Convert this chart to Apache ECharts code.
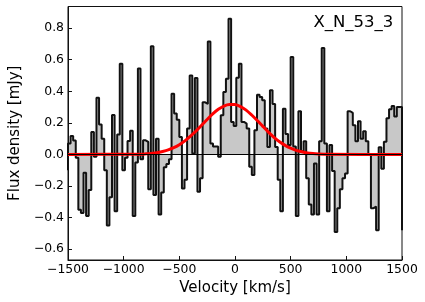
<!DOCTYPE html>
<html><head><meta charset="utf-8">
<script src="https://cdn.jsdelivr.net/npm/echarts@6/dist/echarts.min.js"></script>
<style>html,body{margin:0;padding:0;background:#fff}#c{width:425px;height:302px}</style>
</head><body><div id="c"></div>
<script>
// Spectrum: 129 channels spanning -1500 .. +1500 km/s
const velocityStart = -1500;
const velocityEnd = 1500;
const flux = [
  0.07, 0.117, 0.088, -0.02, -0.35, -0.37, -0.115, -0.39, -0.225, 0.143,
  -0.015, 0.36, 0.19, 0.1, -0.1, -0.45, -0.27, 0.25, -0.36, 0.126,
  0.575, -0.1, -0.02, 0.086, 0.15, -0.39, -0.05, 0.545, -0.03, 0.09,
  0.08, -0.22, 0.686, -0.257, 0.1, -0.38, -0.24, -0.08, -0.06, -0.03,
  0.385, 0.26, 0.22, 0.11, -0.215, -0.16, 0.164, 0.5, 0.006, 0.484,
  -0.236, -0.15, 0.33, 0.32, 0.716, 0.07, 0.05, 0.05, -0.015, 0.248,
  0.396, 0.48, 0.86, 0.206, 0.18, 0.486, 0.575, 0.206, 0.196, 0.164,
  -0.078, -0.13, 0.154, 0.379, 0.364, 0.343, 0.164, 0.048, 0.406, 0.32,
  0.048, -0.16, -0.36, 0.29, 0.13, 0.06, 0.617, 0.05, -0.39, 0.274,
  0.02, 0.084, -0.15, -0.316, -0.38, -0.057, -0.38, 0.084, 0.674, 0.07,
  -0.36, 0.06, -0.105, -0.49, -0.34, -0.22, -0.15, -0.12, 0.274, 0.263,
  0.185, 0.084, 0.21, 0.1, 0.147, 0.084, 0.0, -0.34, -0.33, -0.48,
  0.046, -0.09, 0.08, 0.23, 0.286, 0.307, 0.24, 0.30, 0.30
];
const fluxBelowRange = -0.10;   // channel just left of -1500 (edge of step)
const fluxAboveRange = -0.48;   // channel just right of +1500 (edge of step)

// Gaussian fit (red)
const fitVelocity = [-1500, -850, -800, -750, -700, -650, -600, -550, -500, -450, -400, -350, -300, -250, -200, -150, -100, -50,
  0, 50, 100, 150, 200, 250, 300, 350, 400, 450, 500, 550, 600, 650, 700, 750, 800, 850, 1500];
const fitFlux = [0, 0.002, 0.004, 0.007, 0.011, 0.019, 0.029, 0.043, 0.062, 0.086, 0.116, 0.149, 0.185, 0.222, 0.257, 0.286, 0.307, 0.317,
  0.316, 0.303, 0.281, 0.250, 0.215, 0.178, 0.142, 0.109, 0.081, 0.058, 0.040, 0.026, 0.017, 0.010, 0.006, 0.0035, 0.002, 0.001, 0];

const xTicks = [-1500, -1000, -500, 0, 500, 1000, 1500];
const yTicks = [-0.6, -0.4, -0.2, 0.0, 0.2, 0.4, 0.6, 0.8];
const sourceName = 'X_N_53_3';

const FONT = 'DejaVu Sans';
const n = flux.length;
const chanW = (velocityEnd - velocityStart) / n;
const stepData = [[velocityStart, fluxBelowRange]];
for (let i = 0; i < n; i++) stepData.push([velocityStart + i * chanW, flux[i]]);
stepData.push([velocityEnd, fluxAboveRange]);
const fitData = fitVelocity.map((v, i) => [v, fitFlux[i]]);
const minus = s => String(s).replace('-', '\u2212');

const chart = echarts.init(document.getElementById('c'), null, {renderer: 'canvas'});
chart.setOption({
  animation: false,
  grid: {left: 61, right: 23, top: 6.5, bottom: 42, show: true, borderColor: '#111', borderWidth: 1, backgroundColor: 'transparent'},
  xAxis: {
    type: 'value', min: velocityStart, max: velocityEnd, interval: 500,
    name: 'Velocity [km/s]', nameLocation: 'middle', nameGap: 18,
    nameTextStyle: {fontFamily: FONT, fontSize: 15, color: '#000'},
    axisLine: {show: true, onZero: false, lineStyle: {color: '#111', width: 1}},
    axisTick: {show: true, inside: true, length: 4, lineStyle: {color: '#111'}, customValues: xTicks},
    axisLabel: {fontFamily: FONT, fontSize: 12.4, color: '#000', margin: 4, formatter: v => minus(v), customValues: xTicks},
    splitLine: {show: false}
  },
  yAxis: {
    type: 'value', min: -0.668, max: 0.937,
    name: 'Flux density [mJy]', nameLocation: 'middle', nameGap: 40,
    nameTextStyle: {fontFamily: FONT, fontSize: 15, color: '#000'},
    axisLine: {show: true, onZero: false, lineStyle: {color: '#111', width: 1}},
    axisTick: {show: true, inside: true, length: 4, lineStyle: {color: '#111'}, customValues: yTicks},
    axisLabel: {fontFamily: FONT, fontSize: 12.4, color: '#000', margin: 4, formatter: v => minus(v.toFixed(1)), customValues: yTicks},
    splitLine: {show: false}
  },
  series: [
    {
      type: 'line', data: stepData, step: 'end', symbol: 'none', z: 2, clip: true,
      lineStyle: {color: '#111', width: 2},
      areaStyle: {color: '#c8c8c8', opacity: 1, origin: 0}
    },
    {
      type: 'line', data: fitData, smooth: 0.3, symbol: 'none', z: 3, clip: true,
      lineStyle: {color: '#ff0000', width: 3}
    },
    {
      type: 'line', data: [[velocityStart, 0], [velocityEnd, 0]], symbol: 'none', z: 4, silent: true,
      lineStyle: {color: '#000', width: 1.2}
    }
  ],
  graphic: [{
    type: 'text', x: 393.3, y: 22.5,
    style: {text: sourceName, font: '16.5px "DejaVu Sans"', fill: '#000', textAlign: 'right', textVerticalAlign: 'middle'}
  }]
});
</script></body></html>
